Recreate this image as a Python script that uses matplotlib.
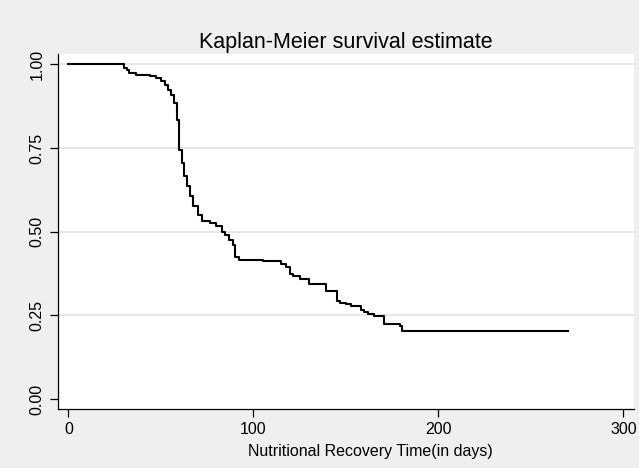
import matplotlib.pyplot as plt

# step points of the Kaplan-Meier curve
time_days = [0, 30, 31.5, 33, 36.5, 44, 47.5, 50, 52, 54, 55.5, 57, 58.5, 60,
             61.5, 62.5, 64, 65.5, 67.5, 70, 72, 76.5, 80, 83, 84.5, 87, 89,
             90, 92.5, 105, 115, 117.5, 120, 121.5, 125, 130, 139.5, 145, 147,
             150, 153, 158, 160, 162, 165, 170.5, 179.5, 180.5, 270]
survival = [1.0, 0.989, 0.982, 0.974, 0.969, 0.964, 0.959, 0.949, 0.939, 0.924,
            0.909, 0.884, 0.835, 0.745, 0.705, 0.665, 0.635, 0.606, 0.576,
            0.551, 0.531, 0.526, 0.516, 0.500, 0.490, 0.475, 0.460, 0.425,
            0.415, 0.412, 0.402, 0.393, 0.372, 0.367, 0.358, 0.343, 0.323,
            0.293, 0.288, 0.283, 0.278, 0.267, 0.259, 0.253, 0.249, 0.225,
            0.217, 0.203, 0.203]

x_ticks = [0, 100, 200, 300]
y_ticks = [0.00, 0.25, 0.50, 0.75, 1.00]
grid_levels = [0.25, 0.50, 0.75, 1.00]

plt.rcParams["font.family"] = ["Liberation Sans", "DejaVu Sans"]

BG = "#efefef"
fig = plt.figure(figsize=(6.39, 4.68), dpi=100, facecolor=BG)
ax = fig.add_axes([58 / 639, 59 / 468, 576 / 639, 355 / 468])
ax.set_facecolor("white")

for g in grid_levels:
    ax.axhline(g, color="#e6e6e6", lw=1.4, zorder=1)

ax.step(time_days, survival, where="post", color="black", lw=1.5, zorder=3)

ax.set_xlim(-5.6, 305.8)
ax.set_ylim(-0.030, 1.031)
ax.set_xticks(x_ticks)
ax.set_yticks(y_ticks)
ax.set_yticklabels([f"{v:.2f}" for v in y_ticks], rotation=90, va="center")
ax.tick_params(axis="both", direction="out", length=5.5, width=0.9,
               labelsize=11.5, color="black", pad=4)

for s in ["top", "right"]:
    ax.spines[s].set_visible(False)
for s in ["left", "bottom"]:
    ax.spines[s].set_linewidth(0.9)

ax.set_xlabel("Nutritional Recovery Time(in days)", fontsize=11.5)
ax.xaxis.set_label_coords(0.543, -0.098)
ax.set_title("Kaplan-Meier survival estimate", fontsize=15.5, pad=4)

fig.savefig("out.png", dpi=100, facecolor=BG)
